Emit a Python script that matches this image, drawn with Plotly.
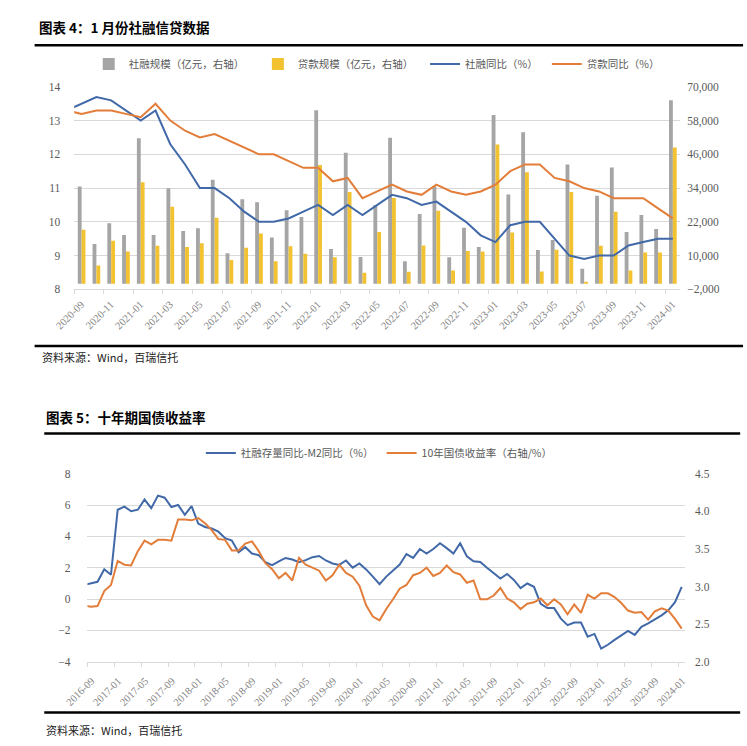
import plotly.graph_objects as go

# ---- 图表4 data (monthly, 2020-09 .. 2024-01; line series carry one extra leading month 2020-08) ----
tsf_scale = [34600, 14100, 21500, 17300, 51700, 17300, 33900, 18700, 19700, 37000,
             10800, 30000, 29000, 16400, 26100, 23700, 61700, 12300, 46600, 9500,
             28000, 51900, 8000, 24800, 34600, 9400, 19900, 13000, 60000, 31700,
             53900, 12000, 15500, 42400, 5300, 31300, 41300, 18400, 24400, 19400, 65200]
loan_scale = [19200, 6500, 15300, 11400, 36100, 13500, 27400, 13000, 14400, 23400,
              8400, 12800, 17800, 8000, 13300, 10600, 42200, 9400, 32600, 3900,
              18400, 30500, 4200, 13600, 25900, 4700, 11600, 11400, 49500, 18200,
              39600, 4300, 12100, 32600, 500, 13500, 25600, 4700, 11100, 11100, 48400]
tsf_yoy = [13.3, 13.5, 13.7, 13.6, 13.3, 13.0, 13.3, 12.3, 11.7, 11.0, 11.0,
           10.7, 10.3, 10.0, 10.0, 10.1, 10.3, 10.5, 10.2, 10.5, 10.2, 10.5,
           10.8, 10.7, 10.5, 10.6, 10.3, 10.0, 9.6, 9.4, 9.9, 10.0, 10.0,
           9.5, 9.0, 8.9, 9.0, 9.0, 9.3, 9.4, 9.5, 9.5]
loan_yoy = [13.3, 13.2, 13.3, 13.3, 13.2, 13.1, 13.5, 13.0, 12.7, 12.5, 12.6,
            12.4, 12.2, 12.0, 12.0, 11.8, 11.6, 11.6, 11.2, 11.3, 10.7, 10.9,
            11.1, 10.9, 10.8, 11.1, 10.9, 10.8, 10.9, 11.1, 11.5, 11.7, 11.7,
            11.3, 11.2, 11.0, 10.9, 10.7, 10.7, 10.7, 10.4, 10.1]
ticks1 = ["2020-09", "2020-11", "2021-01", "2021-03", "2021-05", "2021-07", "2021-09",
          "2021-11", "2022-01", "2022-03", "2022-05", "2022-07", "2022-09", "2022-11",
          "2023-01", "2023-03", "2023-05", "2023-07", "2023-09", "2023-11", "2024-01"]

# ---- 图表5 data (monthly, 2016-09 .. 2024-01; one extra leading month 2016-08) ----
spread = [0.9, 1.0, 1.1, 1.9, 1.55, 5.7, 5.9, 5.6, 5.7, 6.35, 5.8, 6.6, 6.47, 5.87, 6.0,
          5.38, 5.93, 4.82, 4.6, 4.5, 4.3, 3.88, 3.73, 2.98, 3.31, 2.9, 2.8, 2.35, 2.16,
          2.41, 2.62, 2.52, 2.35, 2.48, 2.67, 2.75, 2.46, 2.27, 2.18, 2.46, 2.0, 2.27,
          1.89, 1.43, 0.95, 1.43, 1.79, 2.2, 2.87, 2.62, 3.19, 2.9, 3.19, 3.56, 3.25,
          2.9, 3.56, 2.73, 2.41, 2.37, 2.0, 1.68, 1.31, 1.6, 1.22, 0.7, 0.99, 0.78,
          -0.31, -0.58, -0.58, -1.25, -1.67, -1.5, -1.5, -2.4, -2.23, -3.17, -2.92,
          -2.61, -2.33, -2.04, -2.29, -1.77, -1.56, -1.31, -1.04, -0.72, -0.2, 0.78]
cgb10y = [2.75, 2.73, 2.74, 2.94, 3.02, 3.34, 3.29, 3.28, 3.47, 3.61, 3.56, 3.62, 3.62,
          3.61, 3.89, 3.89, 3.88, 3.91, 3.84, 3.75, 3.63, 3.62, 3.48, 3.48, 3.57, 3.60,
          3.47, 3.31, 3.23, 3.11, 3.18, 3.08, 3.38, 3.29, 3.25, 3.21, 3.08, 3.15, 3.29,
          3.18, 3.13, 3.01, 2.75, 2.60, 2.55, 2.70, 2.83, 2.97, 3.02, 3.15, 3.18, 3.25,
          3.14, 3.18, 3.28, 3.19, 3.16, 3.05, 3.08, 2.83, 2.83, 2.88, 2.98, 2.84, 2.79,
          2.70, 2.77, 2.79, 2.84, 2.75, 2.83, 2.76, 2.63, 2.76, 2.65, 2.89, 2.84, 2.91,
          2.91, 2.86, 2.78, 2.68, 2.65, 2.66, 2.56, 2.67, 2.71, 2.68, 2.57, 2.44]
ticks2 = ["2016-09", "2017-01", "2017-05", "2017-09", "2018-01", "2018-05", "2018-09",
          "2019-01", "2019-05", "2019-09", "2020-01", "2020-05", "2020-09", "2021-01",
          "2021-05", "2021-09", "2022-01", "2022-05", "2022-09", "2023-01", "2023-05",
          "2023-09", "2024-01"]

W, H = 747, 746
GRAY, YELLOW = "#A5A5A5", "#F2C230"
BLUE, ORANGE = "#4169A8", "#E37D3A"
GRID = "#D9D9D9"
SERIF = "Liberation Serif"
NUM_FONT = dict(family=SERIF, size=11.5, color="#595959")
CJK = "Noto Sans CJK SC"

def px_x(v):
    return v / W

def px_y(v):
    return 1 - v / H

n1 = len(tsf_scale)
n2 = len(spread) - 1
x1 = list(range(n1))
x1_line = list(range(-1, n1))
x2_line = list(range(-1, n2))

fig = go.Figure()

fig.add_trace(go.Bar(x=x1, y=tsf_scale, name="社融规模（亿元，右轴）", marker_color=GRAY,
                     marker_line_width=0, xaxis="x", yaxis="y", legend="legend"))
fig.add_trace(go.Bar(x=x1, y=loan_scale, name="贷款规模（亿元，右轴）", marker_color=YELLOW,
                     marker_line_width=0, xaxis="x", yaxis="y", legend="legend2"))
fig.add_trace(go.Scatter(x=x1_line, y=tsf_yoy, name="社融同比（%）", mode="lines",
                         line=dict(color=BLUE, width=2), xaxis="x", yaxis="y2", legend="legend3"))
fig.add_trace(go.Scatter(x=x1_line, y=loan_yoy, name="贷款同比（%）", mode="lines",
                         line=dict(color=ORANGE, width=2), xaxis="x", yaxis="y2", legend="legend4"))

fig.add_trace(go.Scatter(x=x2_line, y=spread, name="社融存量同比-M2同比（%）", mode="lines",
                         line=dict(color=BLUE, width=2), xaxis="x2", yaxis="y3", legend="legend5"))
fig.add_trace(go.Scatter(x=x2_line, y=cgb10y, name="10年国债收益率（右轴/%）", mode="lines",
                         line=dict(color=ORANGE, width=2), xaxis="x2", yaxis="y4", legend="legend6"))

# axes
xcommon = dict(showgrid=False, zeroline=False, showline=True, linecolor=GRID, linewidth=1,
               ticks="outside", ticklen=4, tickcolor=GRID, tickangle=-45,
               tickfont=dict(family=SERIF, size=10.5, color="#7F7F7F"))
fig.update_layout(
    xaxis=dict(domain=[px_x(53), px_x(680)], anchor="y", range=[-0.5, n1 - 0.5],
               tickvals=[i - 0.5 for i in range(0, n1, 2)], ticktext=ticks1,
               ticklabelshift=7, **xcommon),
    yaxis=dict(domain=[px_y(288.3), px_y(82.3)], anchor="x", side="right", range=[-2000, 70000],
               tickvals=[-2000, 10000, 22000, 34000, 46000, 58000, 70000], tickformat=",",
               showgrid=True, gridcolor=GRID, zeroline=False, tickfont=NUM_FONT,
               ticklabelstandoff=6),
    yaxis2=dict(overlaying="y", anchor="x", side="left", range=[8, 14], dtick=1,
                showgrid=False, zeroline=False, tickfont=NUM_FONT, ticklabelstandoff=13),
    xaxis2=dict(domain=[px_x(66.7), px_x(685)], anchor="y3", range=[-0.5, n2 - 0.5],
                tickvals=[i - 0.5 for i in range(0, n2, 4)], ticktext=ticks2,
                ticklabelshift=4, ticklabelstandoff=4, **xcommon),
    yaxis3=dict(domain=[px_y(667.3), px_y(476)], anchor="x2", range=[-4, 8], dtick=2,
                showgrid=True, gridcolor=GRID, zeroline=False, tickfont=NUM_FONT,
                ticklabelstandoff=16),
    yaxis4=dict(overlaying="y3", anchor="x2", side="right", range=[2.0, 4.5], dtick=0.5,
                tickformat=".1f", showgrid=False, zeroline=False, tickfont=NUM_FONT,
                ticklabelstandoff=9),
)

# one legend per item so each can sit where the original puts it
leg_font = dict(family=CJK, size=10.5, color="#595959")
leg_pos = {"legend": (68, 59), "legend2": (243, 59), "legend3": (416, 59), "legend4": (542, 59),
           "legend5": (184, 455), "legend6": (371, 455)}
for key, (lx, ly) in leg_pos.items():
    fig.update_layout({key: dict(x=px_x(lx), y=px_y(ly), xanchor="left", yanchor="middle",
                                 orientation="h", font=leg_font, bgcolor="rgba(0,0,0,0)")})

# titles, rules and source notes
shapes = []
for y0, xa, xb in [(40, 12, 745), (346, 12, 745), (435, 22, 742), (719, 22, 742)]:
    shapes.append(dict(type="line", xref="paper", yref="paper", x0=px_x(xa), x1=px_x(xb),
                       y0=px_y(y0), y1=px_y(y0), line=dict(color="black", width=2.5)))
annos = [
    dict(text="<b>图表 4：1 月份社融信贷数据</b>", x=px_x(14), y=px_y(21), size=13.5, color="black"),
    dict(text="资料来源：Wind，百瑞信托", x=px_x(18), y=px_y(357), size=11, color="#222222"),
    dict(text="<b>图表 5：十年期国债收益率</b>", x=px_x(22), y=px_y(418), size=13.5, color="black"),
    dict(text="资料来源：Wind，百瑞信托", x=px_x(22), y=px_y(737), size=11, color="#222222"),
]
fig.update_layout(
    shapes=shapes,
    annotations=[dict(text=a["text"], x=a["x"], y=a["y"], xref="paper", yref="paper",
                      xanchor="left", yanchor="middle", showarrow=False,
                      font=dict(family=CJK, size=a["size"], color=a["color"])) for a in annos],
)

fig.update_layout(width=W, height=H, margin=dict(l=0, r=0, t=0, b=0), autosize=False,
                  paper_bgcolor="white", plot_bgcolor="white",
                  barmode="group", bargap=0.48, bargroupgap=0, showlegend=True)

fig.write_html("out.html", config={"displayModeBar": False},
               post_script="document.body.style.margin='0';document.body.style.overflow='hidden';")
